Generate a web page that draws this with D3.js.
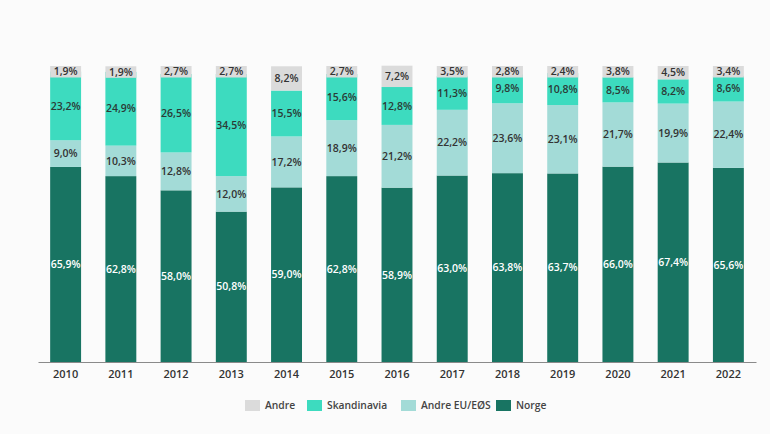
<!DOCTYPE html>
<html>
<head>
<meta charset="utf-8">
<script src="https://cdn.jsdelivr.net/npm/d3@7"></script>
<style>
  html, body { margin: 0; padding: 0; background: #fbfbfb; }
  svg { display: block; }
  text { font-family: "Open Sans", "Noto Sans", sans-serif; }
</style>
</head>
<body>
<svg id="chart" width="770" height="434"></svg>
<script>
const years = ["2010","2011","2012","2013","2014","2015","2016","2017","2018","2019","2020","2021","2022"];
const norge = [65.9, 62.8, 58.0, 50.8, 59.0, 62.8, 58.9, 63.0, 63.8, 63.7, 66.0, 67.4, 65.6];
const andreEU = [9.0, 10.3, 12.8, 12.0, 17.2, 18.9, 21.2, 22.2, 23.6, 23.1, 21.7, 19.9, 22.4];
const skandinavia = [23.2, 24.9, 26.5, 34.5, 15.5, 15.6, 12.8, 11.3, 9.8, 10.8, 8.5, 8.2, 8.6];
const andre = [1.9, 1.9, 2.7, 2.7, 8.2, 2.7, 7.2, 3.5, 2.8, 2.4, 3.8, 4.5, 3.4];
const seriesNames = ["Norge", "Andre EU/EØS", "Skandinavia", "Andre"];
const legendOrder = ["Andre", "Skandinavia", "Andre EU/EØS", "Norge"];

const colors = {
  "Norge": "#187462",
  "Andre EU/EØS": "#a3dbd7",
  "Skandinavia": "#3ddbbf",
  "Andre": "#dbdbdb"
};
const labelColors = {
  "Norge": "#ffffff",
  "Andre EU/EØS": "#333333",
  "Skandinavia": "#2b3a36",
  "Andre": "#333333"
};

const seriesData = {"Norge": norge, "Andre EU/EØS": andreEU, "Skandinavia": skandinavia, "Andre": andre};
const table = years.map((y, i) => {
  const row = {year: y};
  seriesNames.forEach(s => row[s] = seriesData[s][i]);
  return row;
});

const svg = d3.select("#chart");
const x = d3.scaleBand().domain(years).range([38, 756]).paddingInner(0.44).paddingOuter(0.22);
const y = d3.scaleLinear().domain([0, 100]).range([362, 66]);

const stack = d3.stack().keys(seriesNames);
const layers = stack(table);

const fmt = v => d3.format(".1f")(v).replace(".", ",") + "%";

const g = svg.append("g");
layers.forEach(layer => {
  const name = layer.key;
  const lg = g.append("g");
  lg.selectAll("rect").data(layer).join("rect")
    .attr("x", d => x(d.data.year))
    .attr("width", x.bandwidth())
    .attr("y", d => y(d[1]))
    .attr("height", d => {
      const h = y(d[0]) - y(d[1]);
      return name === "Andre" ? Math.max(h, 11.5) : h;
    })
    .attr("fill", colors[name]);
});

layers.forEach(layer => {
  const name = layer.key;
  g.append("g").selectAll("text").data(layer).join("text")
    .attr("x", d => x(d.data.year) + x.bandwidth() / 2)
    .attr("y", d => {
      const h = y(d[0]) - y(d[1]);
      if (name === "Andre") {
        const hh = Math.max(h, 11.5);
        return y(d[1]) + hh / 2;
      }
      return (y(d[0]) + y(d[1])) / 2;
    })
    .attr("dy", "0.35em")
    .attr("text-anchor", "middle")
    .attr("font-size", 10.5)
    .attr("font-weight", 600)
    .attr("fill", labelColors[name])
    .text(d => fmt(d.data[name]));
});

// x axis
const xAxis = d3.axisBottom(x).tickSize(0).tickPadding(8);
const ax = svg.append("g").attr("transform", "translate(0,362)").call(xAxis);
ax.select(".domain").attr("stroke", "#8a8a8a").attr("stroke-width", 1.2);
ax.selectAll("text")
  .attr("font-size", 11)
  .attr("font-weight", 600)
  .attr("fill", "#333")
  .attr("font-family", "'Open Sans', 'Noto Sans', sans-serif");

// legend
const legendX = [245, 307, 401, 496];
const legend = svg.append("g");
legendOrder.forEach((name, i) => {
  const lg = legend.append("g").attr("transform", `translate(${legendX[i]},400)`);
  lg.append("rect").attr("width", 15).attr("height", 11).attr("fill", colors[name]);
  lg.append("text").attr("x", 20).attr("y", 5.5).attr("dy", "0.35em")
    .attr("font-size", 10.3).attr("font-weight", 600).attr("fill", "#444")
    .text(name);
});
</script>
</body>
</html>
